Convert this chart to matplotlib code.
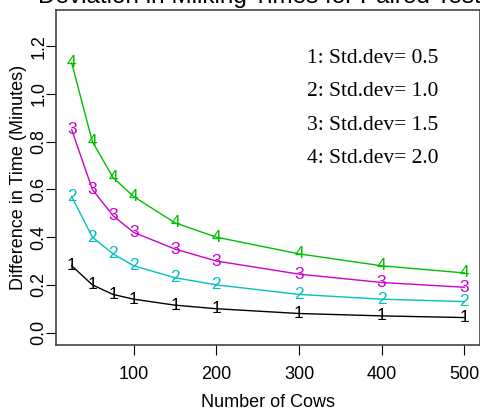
import matplotlib
matplotlib.use("Agg")
import matplotlib.pyplot as plt

cows = [25, 50, 75, 100, 150, 200, 300, 400, 500]
sd1 = [0.28, 0.20, 0.16, 0.14, 0.115, 0.10, 0.08, 0.07, 0.063]
sd2 = [0.57, 0.40, 0.33, 0.28, 0.23, 0.20, 0.16, 0.14, 0.13]
sd3 = [0.85, 0.60, 0.49, 0.42, 0.35, 0.30, 0.245, 0.21, 0.19]
sd4 = [1.13, 0.80, 0.65, 0.57, 0.46, 0.40, 0.33, 0.28, 0.25]
series = [sd1, sd2, sd3, sd4]
labels = ["1", "2", "3", "4"]
legend_text = ["1: Std.dev= 0.5", "2: Std.dev= 1.0", "3: Std.dev= 1.5", "4: Std.dev= 2.0"]
colors = ["#000000", "#00C0C0", "#CC00CC", "#00C000"]
xticks = [100, 200, 300, 400, 500]
yticks = [0.0, 0.2, 0.4, 0.6, 0.8, 1.0, 1.2]

W, H = 481, 411
fig = plt.figure(figsize=(W / 100, H / 100), dpi=100)
ax = fig.add_axes([56 / W, (H - 345) / H, (480 - 56) / W, (345 - 10) / H])

for ys, lab, c in zip(series, labels, colors):
    ax.plot(cows, ys, color=c, lw=1.0)
    for x, y in zip(cows, ys):
        ax.text(x, y, lab, color=c, ha="center", va="center",
                fontsize=12.5, family="Liberation Sans")

ax.set_xlim(6, 519)
ax.set_ylim(-0.052, 1.352)
ax.set_xticks(xticks)
ax.set_xticklabels([str(t) for t in xticks])
ax.set_yticks(yticks)
ax.set_yticklabels([f"{t:.1f}" for t in yticks], rotation=90, va="center")
ax.tick_params(length=7, width=0.8, labelsize=13, colors="#000000")
ax.tick_params(axis="x", pad=8)
ax.tick_params(axis="y", pad=-1)
for lbl in ax.get_xticklabels() + ax.get_yticklabels():
    lbl.set_family("Liberation Sans")
for s in ax.spines.values():
    s.set_color("#444444")
    s.set_linewidth(1.2)

ax.set_xlabel("Number of Cows", fontsize=13, family="Liberation Sans", labelpad=8)
ax.set_ylabel("Difference in Time (Minutes)", fontsize=13, family="Liberation Sans")
ax.yaxis.set_label_coords((27 - 56) / 424, 0.5)

for i, t in enumerate(legend_text):
    fig.text(307 / W, 1 - (58 + i * 33.5) / H, t, fontsize=15.5,
             family="Liberation Serif", va="center", ha="left")

fig.text(38 / W, 1 - 3 / H, "Deviation in Milking Times for Paired Test",
         fontsize=17.5, family="Liberation Sans", va="baseline", ha="left")

fig.savefig("out.png", dpi=100)
